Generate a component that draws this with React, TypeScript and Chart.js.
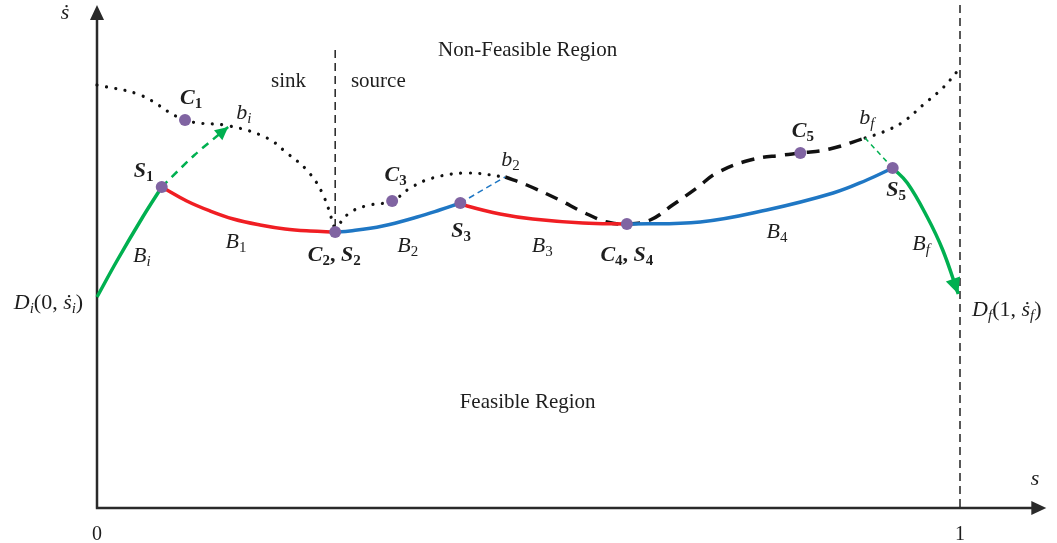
import React, { useEffect, useRef } from "react";
import { Chart, registerables } from "chart.js";

Chart.register(...registerables);

// ---- data: path parameter s (x) and path speed ṡ (y) ----
// boundary curves
const sinkBoundaryS = [0, 0.05, 0.102, 0.154, 0.197, 0.22, 0.243, 0.261, 0.276];
const sinkBoundaryV = [4.23, 4.13, 3.88, 3.82, 3.7, 3.55, 3.38, 3.15, 2.78];
const sourceBoundaryS = [0.276, 0.291, 0.311, 0.342, 0.363, 0.389, 0.429, 0.473];
const sourceBoundaryV = [2.78, 2.94, 3.02, 3.07, 3.2, 3.3, 3.35, 3.31];
const dashedBoundaryS = [0.473, 0.498, 0.536, 0.563, 0.591, 0.614, 0.641, 0.667, 0.695, 0.718, 0.757, 0.795, 0.815, 0.849, 0.89];
const dashedBoundaryV = [3.31, 3.23, 3.08, 2.96, 2.86, 2.84, 2.88, 3.03, 3.2, 3.35, 3.48, 3.53, 3.55, 3.59, 3.7];
const finalBoundaryS = [0.89, 0.911, 0.934, 0.957, 0.98, 1.0];
const finalBoundaryV = [3.7, 3.76, 3.86, 4.03, 4.2, 4.4];

// trajectory segments
const BiS = [0, 0.023, 0.053, 0.075];
const BiV = [2.11, 2.47, 2.91, 3.21];
const B1S = [0.075, 0.104, 0.131, 0.158, 0.189, 0.218, 0.247, 0.276];
const B1V = [3.21, 3.07, 2.97, 2.89, 2.83, 2.79, 2.77, 2.76];
const B2S = [0.276, 0.293, 0.331, 0.371, 0.397, 0.421];
const B2V = [2.76, 2.77, 2.82, 2.91, 2.98, 3.05];
const B3S = [0.421, 0.429, 0.467, 0.505, 0.563, 0.614];
const B3V = [3.05, 3.02, 2.94, 2.89, 2.85, 2.84];
const B4S = [0.614, 0.699, 0.776, 0.853, 0.892, 0.922];
const B4V = [2.84, 2.86, 2.98, 3.15, 3.28, 3.4];
const BfS = [0.922, 0.939, 0.962, 0.98, 0.998];
const BfV = [3.4, 3.25, 2.91, 2.58, 2.14];

// auxiliary dashed links
const biLinkS = [0.075, 0.113, 0.152];
const biLinkV = [3.21, 3.53, 3.81];
const b2LinkS = [0.421, 0.473];
const b2LinkV = [3.05, 3.31];
const bfLinkS = [0.922, 0.89];
const bfLinkV = [3.4, 3.7];

// vertical reference lines
const sinkSourceS = [0.276, 0.276];
const sinkSourceV = [4.58, 2.8];
const endS = [1, 1];
const endV = [5.03, 0];

// switching / critical points S1, C1, C2=S2, C3, S3, C4=S4, C5, S5
const markerS = [0.075, 0.102, 0.276, 0.342, 0.421, 0.614, 0.815, 0.922];
const markerV = [3.21, 3.88, 2.76, 3.07, 3.05, 2.84, 3.55, 3.4];

// axis extents
const AXIS_S_END = 1.1;
const AXIS_V_END = 5.03;

type Part = { t: string; i?: boolean; b?: boolean; sub?: boolean };
type Label = { s: number; v: number; parts: Part[]; size: number; align?: "left" | "center" | "right" };

const txt = (t: string): Part[] => [{ t }];
const bsub = (m: string, n: string): Part[] => [{ t: m, b: true, i: true }, { t: n, b: true, sub: true }];
const isub = (m: string, n: string, subItalic = false): Part[] => [{ t: m, i: true }, { t: n, sub: true, i: subItalic }];

const labels: Label[] = [
  { s: -0.037, v: 4.95, parts: [{ t: "ṡ", i: true }], size: 22 },
  { s: 1.087, v: 0.29, parts: [{ t: "s", i: true }], size: 22 },
  { s: 0, v: -0.27, parts: txt("0"), size: 20 },
  { s: 1, v: -0.27, parts: txt("1"), size: 20 },
  { s: 0.499, v: 4.58, parts: txt("Non-Feasible Region"), size: 21 },
  { s: 0.222, v: 4.27, parts: txt("sink"), size: 21 },
  { s: 0.326, v: 4.27, parts: txt("source"), size: 21 },
  { s: 0.499, v: 1.06, parts: txt("Feasible Region"), size: 21 },
  { s: 0.109, v: 4.1, parts: bsub("C", "1"), size: 22 },
  { s: 0.17, v: 3.95, parts: isub("b", "i", true), size: 22 },
  { s: 0.054, v: 3.37, parts: bsub("S", "1"), size: 22 },
  { s: 0.052, v: 2.52, parts: isub("B", "i", true), size: 22 },
  { s: 0.161, v: 2.66, parts: isub("B", "1"), size: 22 },
  { s: 0.275, v: 2.53, parts: [...bsub("C", "2"), { t: ", ", b: true }, ...bsub("S", "2")], size: 22 },
  { s: 0.346, v: 3.33, parts: bsub("C", "3"), size: 22 },
  { s: 0.479, v: 3.48, parts: isub("b", "2"), size: 22 },
  { s: 0.422, v: 2.77, parts: bsub("S", "3"), size: 22 },
  { s: 0.36, v: 2.62, parts: isub("B", "2"), size: 22 },
  { s: 0.516, v: 2.62, parts: isub("B", "3"), size: 22 },
  { s: 0.614, v: 2.53, parts: [...bsub("C", "4"), { t: ", ", b: true }, ...bsub("S", "4")], size: 22 },
  { s: 0.818, v: 3.77, parts: bsub("C", "5"), size: 22 },
  { s: 0.892, v: 3.9, parts: isub("b", "f", true), size: 22 },
  { s: 0.926, v: 3.18, parts: bsub("S", "5"), size: 22 },
  { s: 0.788, v: 2.76, parts: isub("B", "4"), size: 22 },
  { s: 0.955, v: 2.64, parts: isub("B", "f", true), size: 22 },
  {
    s: -0.016, v: 2.05, align: "right", size: 22,
    parts: [{ t: "D", i: true }, { t: "i", i: true, sub: true }, { t: "(0, " }, { t: "ṡ", i: true }, { t: "i", i: true, sub: true }, { t: ")" }],
  },
  {
    s: 1.014, v: 1.98, align: "left", size: 22,
    parts: [{ t: "D", i: true }, { t: "f", i: true, sub: true }, { t: "(1, " }, { t: "ṡ", i: true }, { t: "f", i: true, sub: true }, { t: ")" }],
  },
];

const pts = (xs: number[], ys: number[]) => xs.map((x, i) => ({ x, y: ys[i] }));

const GREEN = "#00B050";
const RED = "#F01E23";
const BLUE = "#1F77C4";
const PURPLE = "#8064A2";
const INK = "#1E1E1E";

const line = (data: any[], color: string, width: number, dash: number[], tension: number, order: number, extra: any = {}) => ({
  data,
  showLine: true,
  borderColor: color,
  backgroundColor: color,
  borderWidth: width,
  borderDash: dash,
  tension,
  pointRadius: 0,
  pointHoverRadius: 0,
  fill: false,
  order,
  ...extra,
});

const fontFor = (p: Part, size: number) =>
  `${p.i ? "italic " : ""}${p.b ? "bold " : ""}${p.sub ? Math.round(size * 0.7) : size}px "Liberation Serif"`;

function drawArrow(ctx: CanvasRenderingContext2D, tx: number, ty: number, fx: number, fy: number, len: number, half: number, color: string) {
  const ang = Math.atan2(ty - fy, tx - fx);
  ctx.save();
  ctx.translate(tx, ty);
  ctx.rotate(ang);
  ctx.beginPath();
  ctx.moveTo(0, 0);
  ctx.lineTo(-len, half);
  ctx.lineTo(-len, -half);
  ctx.closePath();
  ctx.fillStyle = color;
  ctx.fill();
  ctx.restore();
}

const decor = {
  id: "decor",
  beforeDatasetsDraw(chart: any) {
    const { ctx, scales } = chart;
    const x = scales.x, y = scales.y;
    const x0 = x.getPixelForValue(0), y0 = y.getPixelForValue(0);
    const yTop = y.getPixelForValue(AXIS_V_END), xEnd = x.getPixelForValue(AXIS_S_END);
    ctx.save();
    ctx.strokeStyle = "#2a2a2a";
    ctx.lineWidth = 2.5;
    ctx.beginPath();
    ctx.moveTo(x0, y0);
    ctx.lineTo(x0, yTop + 10);
    ctx.moveTo(x0 - 1.2, y0);
    ctx.lineTo(xEnd - 10, y0);
    ctx.stroke();
    ctx.restore();
    drawArrow(ctx, x0, yTop, x0, yTop + 20, 15, 7, "#2a2a2a");
    drawArrow(ctx, xEnd, y0, xEnd - 20, y0, 15, 7, "#2a2a2a");
  },
  afterDatasetsDraw(chart: any) {
    const { ctx, scales } = chart;
    const x = scales.x, y = scales.y;
    chart.data.datasets.forEach((ds: any, i: number) => {
      if (!ds.arrow) return;
      const els = chart.getDatasetMeta(i).data;
      const last = els[els.length - 1];
      const prev = els[els.length - 2];
      let fx = prev.x, fy = prev.y;
      if (last.cp1x !== undefined && Math.hypot(last.cp1x - last.x, last.cp1y - last.y) > 2) {
        fx = last.cp1x; fy = last.cp1y;
      }
      drawArrow(ctx, last.x, last.y, fx, fy, ds.arrow.len, ds.arrow.half, ds.borderColor);
    });
    ctx.save();
    ctx.fillStyle = INK;
    ctx.textBaseline = "middle";
    ctx.textAlign = "left";
    for (const lb of labels) {
      let w = 0;
      for (const p of lb.parts) {
        ctx.font = fontFor(p, lb.size);
        w += ctx.measureText(p.t).width;
      }
      const px = x.getPixelForValue(lb.s), py = y.getPixelForValue(lb.v);
      let cx = lb.align === "right" ? px - w : lb.align === "left" ? px : px - w / 2;
      for (const p of lb.parts) {
        ctx.font = fontFor(p, lb.size);
        ctx.fillText(p.t, cx, py + (p.sub ? lb.size * 0.28 : 0));
        cx += ctx.measureText(p.t).width;
      }
    }
    ctx.restore();
  },
};

export default function App() {
  const ref = useRef<HTMLCanvasElement>(null);
  useEffect(() => {
    if (!ref.current) return;
    const dotted = { borderCapStyle: "round" };
    const chart = new Chart(ref.current, {
      type: "scatter",
      data: {
        datasets: [
          {
            data: pts(markerS, markerV),
            pointRadius: 6,
            pointHoverRadius: 6,
            pointBackgroundColor: PURPLE,
            pointBorderWidth: 0,
            showLine: false,
            order: 0,
          } as any,
          line(pts(BiS, BiV), GREEN, 3.5, [], 0.4, 1),
          line(pts(B1S, B1V), RED, 3.5, [], 0.4, 1),
          line(pts(B2S, B2V), BLUE, 3.5, [], 0.4, 1),
          line(pts(B3S, B3V), RED, 3.5, [], 0.4, 1),
          line(pts(B4S, B4V), BLUE, 3.5, [], 0.4, 1),
          line(pts(BfS, BfV), GREEN, 3.5, [], 0.4, 1, { arrow: { len: 16, half: 7.5 } }),
          line(pts(biLinkS, biLinkV), GREEN, 2.5, [8, 6], 0.3, 2, { arrow: { len: 13, half: 6.5 } }),
          line(pts(b2LinkS, b2LinkV), BLUE, 1.5, [6, 4], 0, 2),
          line(pts(bfLinkS, bfLinkV), GREEN, 1.5, [5, 4], 0, 2),
          line(pts(sinkBoundaryS, sinkBoundaryV), "#111", 3.2, [0.01, 9.5], 0.4, 3, dotted),
          line(pts(sourceBoundaryS, sourceBoundaryV), "#111", 3.2, [0.01, 9.5], 0.4, 3, dotted),
          line(pts(dashedBoundaryS, dashedBoundaryV), "#111", 3.5, [13, 9], 0.4, 3),
          line(pts(finalBoundaryS, finalBoundaryV), "#111", 3.2, [0.01, 9.5], 0.4, 3, dotted),
          line(pts(sinkSourceS, sinkSourceV), "#222", 1.5, [8, 5], 0, 4),
          line(pts(endS, endV), "#222", 1.5, [8, 5], 0, 4),
        ],
      },
      options: {
        animation: false,
        responsive: true,
        maintainAspectRatio: false,
        layout: { padding: 0, autoPadding: false },
        events: [],
        plugins: { legend: { display: false }, tooltip: { enabled: false } },
        scales: {
          x: { type: "linear", display: false, min: -97 / 863, max: 960 / 863 },
          y: { type: "linear", display: false, min: -0.35, max: 5.08 },
        },
      },
      plugins: [decor],
    } as any);
    return () => chart.destroy();
  }, []);
  return (
    <div style={{ position: "fixed", left: 0, top: 0, width: 1057, height: 543, background: "#fff" }}>
      <canvas ref={ref} />
    </div>
  );
}
